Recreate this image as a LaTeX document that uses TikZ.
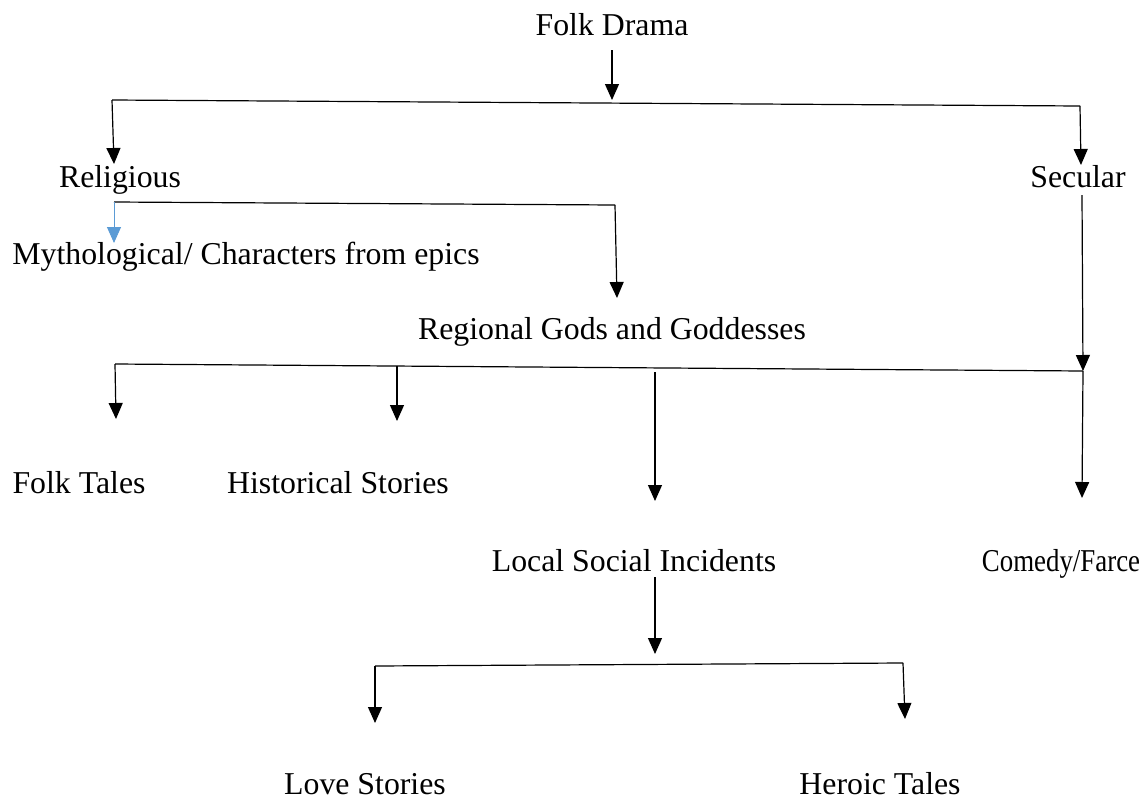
\documentclass[tikz,border=0pt]{standalone}
\usepackage{fontspec}
\setmainfont{Liberation Serif}
\usetikzlibrary{arrows.meta}
\definecolor{wordblue}{HTML}{5B9BD5}
\tikzset{
 link/.style={line width=.9pt,-{Triangle[length=12pt,width=10.5pt]}},
 bar/.style={line width=.9pt},
 bluelink/.style={link,draw=wordblue,line width=.7pt},
 genre/.style={anchor=base,inner sep=0,font=\fontsize{23.85}{28}\selectfont}
}
\begin{document}
\begin{tikzpicture}[x=.75pt,y=-.75pt]
\path[use as bounding box] (0,0) rectangle (1147,800);
% labels
\node[genre] (fd) at (612,35) {Folk Drama};
\node[genre] (rel) at (120,187) {Religious};
\node[genre] (sec) at (1078,187) {Secular};
\node[genre] (myth) at (246,264) {Mythological/ Characters from epics};
\node[genre] (reg) at (612,339) {Regional Gods and Goddesses};
\node[genre] (ft) at (79,493) {Folk Tales};
\node[genre] (hist) at (338,493) {Historical Stories};
\node[genre] (loc) at (634,571) {Local Social Incidents};
\node[genre] (com) at (1061,571) {\scalebox{.845}[1]{Comedy/Farce}};
\node[genre] (love) at (365,794) {Love Stories};
\node[genre] (hero) at (880,794) {Heroic Tales};
% top split
\coordinate (fd out) at (612,50);
\coordinate (fd in) at (612,100);
\coordinate (b1 l) at (112,100);
\coordinate (b1 r) at (1080,106);
\coordinate (rel in) at (114,164);
\coordinate (sec in) at (1081,165);
\draw[link] (fd out) -- (fd in);
\draw[bar] (b1 l) -- (b1 r);
\draw[link] (b1 l) -- (rel in);
\draw[link] (b1 r) -- (sec in);
% religious
\coordinate (b2 l) at (114,202);
\coordinate (b2 r) at (615,205);
\coordinate (myth in) at (114,243);
\coordinate (reg in) at (617,298);
\draw[bar] (b2 l) -- (b2 r);
\draw[bluelink] (b2 l) -- (myth in);
\draw[link] (b2 r) -- (reg in);
% secular
\coordinate (sec out) at (1082,195);
\coordinate (b3 r) at (1083,371);
\coordinate (b3 l) at (115,364);
\draw[link] (sec out) -- (b3 r);
\draw[bar] (b3 l) -- (b3 r);
\coordinate (hist top) at (397,366);
\coordinate (loc top) at (655,372);
\draw[link] (b3 l) -- (116,419) coordinate (ft in);
\draw[link] (hist top) -- (397,421) coordinate (hist in);
\draw[link] (loc top) -- (655,501) coordinate (loc in);
\draw[link] (b3 r) -- (1082,498) coordinate (com in);
% local social incidents
\coordinate (loc out) at (655,577);
\coordinate (b4 l) at (375,666);
\coordinate (b4 r) at (903,663);
\draw[link] (loc out) -- (655,654) coordinate (b4 in);
\draw[bar] (b4 l) -- (b4 r);
\draw[link] (b4 l) -- (375,723) coordinate (love in);
\draw[link] (b4 r) -- (905,719) coordinate (hero in);
\end{tikzpicture}
\end{document}
